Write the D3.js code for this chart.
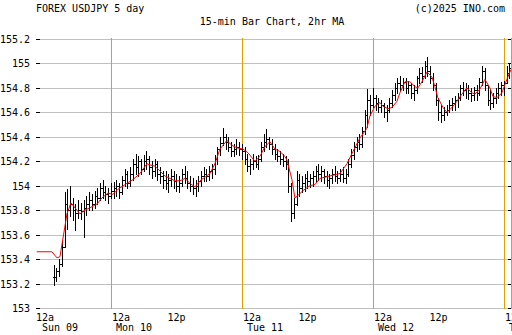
<!DOCTYPE html>
<html>
<head>
<meta charset="utf-8">
<script src="https://cdn.jsdelivr.net/npm/d3@7"></script>
<style>
  body { margin: 0; background: #fff; }
  .chart { width: 512px; height: 335px; }
  text { font-family: "DejaVu Sans Mono", monospace; font-size: 10px; fill: #000; }
</style>
</head>
<body>
<div class="chart"></div>
<script>
//30-min bars, hours counted from Mon 10 12a
const barStart = -10.5;
const barStep = 0.5;

const highs = [
  153.35,153.33,153.40,153.55,153.95,153.97,154.00,153.90,153.85,153.88,153.86,153.88,153.92,153.95,153.93,153.96,153.98,154.02,154.05,154.00,153.98,154.02,
  154.03,154.05,154.02,154.08,154.14,154.12,154.15,154.22,154.26,154.24,154.22,154.25,154.28,154.24,154.20,154.22,154.20,154.15,154.12,154.12,154.10,154.14,154.12,154.10,154.08,154.14,154.16,154.12,154.08,154.06,154.05,154.08,154.12,154.15,154.14,154.16,154.18,154.25,154.32,154.40,154.47,154.42,154.40,154.36,154.34,154.38,154.36,154.34,
  154.32,154.26,154.22,154.26,154.24,154.25,154.36,154.42,154.46,154.40,154.38,154.34,154.30,154.28,154.26,154.24,154.22,154.02,153.90,154.12,154.10,154.08,154.10,154.12,154.10,154.12,154.16,154.18,154.16,154.14,154.12,154.10,154.14,154.16,154.12,154.14,154.15,154.14,154.22,154.30,154.36,154.40,154.42,154.48,154.62,154.79,154.74,154.80,
  154.74,154.72,154.70,154.68,154.66,154.72,154.78,154.84,154.88,154.90,154.88,154.88,154.86,154.84,154.82,154.90,154.96,154.97,155.02,155.05,154.98,154.92,154.84,154.72,154.66,154.64,154.66,154.70,154.72,154.73,154.76,154.82,154.85,154.84,154.82,154.80,154.81,154.82,154.88,154.98,154.96,154.82,154.78,154.76,154.80,154.84,154.85,154.86,154.98,155.00
];

const lows = [
  153.19,153.22,153.26,153.34,153.50,153.65,153.75,153.72,153.64,153.74,153.73,153.58,153.76,153.80,153.80,153.82,153.85,153.88,153.90,153.88,153.86,153.90,
  153.90,153.92,153.90,153.93,154.00,153.98,154.00,154.05,154.10,154.08,154.10,154.12,154.14,154.10,154.06,154.08,154.05,154.02,153.98,153.97,153.95,154.00,153.98,153.96,153.95,154.00,154.02,153.98,153.96,153.93,153.92,153.96,154.00,154.04,154.04,154.05,154.06,154.10,154.18,154.25,154.33,154.30,154.28,154.24,154.24,154.26,154.25,154.22,
  154.18,154.12,154.10,154.14,154.15,154.14,154.20,154.28,154.32,154.30,154.26,154.22,154.20,154.18,154.16,154.14,153.95,153.71,153.74,153.84,153.92,153.95,153.96,153.98,153.99,154.00,154.03,154.05,154.04,154.02,154.00,153.98,154.02,154.04,154.02,154.04,154.03,154.02,154.08,154.15,154.22,154.28,154.30,154.32,154.42,154.48,154.58,154.64,
  154.62,154.60,154.60,154.56,154.53,154.60,154.64,154.70,154.76,154.78,154.78,154.76,154.76,154.72,154.70,154.76,154.84,154.85,154.88,154.90,154.84,154.78,154.66,154.54,154.52,154.54,154.58,154.60,154.62,154.62,154.64,154.70,154.74,154.72,154.71,154.69,154.70,154.70,154.74,154.82,154.78,154.66,154.63,154.64,154.68,154.72,154.74,154.74,154.84,154.88
];

const closes = [
  153.25,153.30,153.36,153.50,153.85,153.80,153.85,153.80,153.78,153.80,153.79,153.82,153.85,153.88,153.85,153.92,153.90,153.98,153.95,153.93,153.92,153.96,
  153.98,154.00,153.95,154.05,154.10,154.02,154.10,154.18,154.15,154.20,154.14,154.20,154.22,154.15,154.12,154.18,154.10,154.08,154.05,154.02,154.05,154.08,154.04,154.00,154.02,154.10,154.06,154.02,154.00,153.98,154.00,154.04,154.08,154.10,154.08,154.12,154.14,154.22,154.30,154.35,154.40,154.36,154.32,154.28,154.30,154.32,154.30,154.28,
  154.22,154.16,154.18,154.20,154.18,154.22,154.32,154.36,154.38,154.34,154.30,154.26,154.24,154.22,154.20,154.18,154.00,153.78,153.85,154.05,153.98,154.02,154.06,154.04,154.06,154.08,154.12,154.10,154.12,154.08,154.05,154.06,154.10,154.08,154.06,154.10,154.06,154.10,154.18,154.25,154.32,154.36,154.34,154.45,154.58,154.70,154.66,154.72,
  154.68,154.64,154.66,154.60,154.62,154.68,154.74,154.80,154.84,154.82,154.85,154.80,154.82,154.76,154.78,154.88,154.92,154.90,154.98,154.94,154.88,154.82,154.70,154.60,154.58,154.60,154.62,154.66,154.68,154.70,154.72,154.80,154.78,154.80,154.76,154.74,154.78,154.76,154.85,154.94,154.82,154.70,154.68,154.72,154.76,154.80,154.82,154.84,154.92,154.96
];

//2hr moving average (hour, price)
const maHours = [-13.6,-10.81,-9.89,-9.34,-8.06,-7.33,-6.23,-5.68,-4.76,-3.85,-2.57,-1.65,-0.55,0.37,1.28,2.93,4.03,5.31,6.60,7.15,8.06,8.98,9.89,10.81,11.73,12.64,13.56,14.47,15.39,16.31,18.14,19.05,19.97,21.25,22.17,23.09,24.18,25.10,26.38,27.30,28.22,29.13,30.05,30.96,31.88,32.25,33.16,33.71,34.26,35.18,36.46,37.38,38.29,40.13,41.96,43.24,44.34,45.62,46.90,47.45,48.37,49.29,49.84,50.75,51.48,52.40,52.95,53.87,54.78,55.70,56.25,56.98,57.90,58.81,59.36,59.91,60.83,61.56,62.48,63.39,64.31,65.23,66.14,66.69,67.61,68.52,69.44,69.99,70.72,71.64,72.55,73.29];
const maValues = [153.46,153.46,153.41,153.42,153.77,153.86,153.80,153.77,153.80,153.82,153.85,153.90,153.94,153.93,153.97,154.02,154.05,154.10,154.18,154.17,154.16,154.12,154.08,154.06,154.04,154.04,154.06,154.02,153.99,154.04,154.10,154.18,154.30,154.37,154.33,154.31,154.30,154.27,154.20,154.24,154.32,154.36,154.30,154.28,154.24,154.21,154.05,153.90,153.92,153.96,154.00,154.01,154.06,154.08,154.10,154.18,154.28,154.39,154.47,154.57,154.65,154.68,154.65,154.63,154.64,154.69,154.76,154.85,154.85,154.81,154.80,154.85,154.93,154.89,154.81,154.72,154.64,154.60,154.64,154.69,154.75,154.80,154.76,154.75,154.79,154.87,154.80,154.73,154.72,154.76,154.87,154.95];

const yTicks = [153, 153.2, 153.4, 153.6, 153.8, 154, 154.2, 154.4, 154.6, 154.8, 155, 155.2];
const xTickHours = [0, 12, 24, 36, 48, 60, 72];
const xTickLabels = ["12a", "12p", "12a", "12p", "12a", "12p", "12a"];
const dayHours = [0, 24, 48, 72];
const dayLabels = ["Mon 10", "Tue 11", "Wed 12", "Thu 13"];

let chart = {};
const base = new Date(2025, 10, 10, 0, 0).getTime();
const hrs = h => new Date(base + h * 3600000);

init();

function init() {
    chart.bars = highs.map((h, i) => ({
        t: hrs(barStart + i * barStep),
        h: h,
        l: lows[i],
        c: closes[i],
        o: i > 0 ? closes[i - 1] : closes[i]
    }));
    chart.ma = maHours.map((h, i) => ({ t: hrs(h), v: maValues[i] }));

    setDimensions();
    setScales();
    appendElements();
}

function setDimensions() {
    chart.left = 40;
    chart.right = 511;
    chart.top = 39;
    chart.bottom = 308;
}

function setScales() {
    chart.x = d3.scaleTime()
        .domain([hrs(-13), hrs(73.3)])
        .range([chart.left, chart.right]);

    chart.y = d3.scaleLinear()
        .domain([153, 155.2])
        .range([chart.bottom, chart.top]);
}

function appendElements() {
    const px = v => Math.round(v) + 0.5;

    chart.svg = d3.select(".chart").append("svg")
        .attr("width", 512)
        .attr("height", 335);

    //titles
    chart.svg.append("text").attr("x", 36).attr("y", 12).text("FOREX USDJPY 5 day");
    chart.svg.append("text").attr("x", 505).attr("y", 12).attr("text-anchor", "end").text("(c)2025 INO.com");
    chart.svg.append("text").attr("x", 272).attr("y", 25).attr("text-anchor", "middle").text("15-min Bar Chart, 2hr MA");

    //horizontal grid + left/right tick marks
    let grid = chart.svg.append("g").attr("shape-rendering", "crispEdges");
    grid.selectAll("line.grid")
        .data(yTicks).enter()
        .append("line")
        .attr("class", "grid")
        .attr("x1", chart.left).attr("x2", chart.right + 1)
        .attr("y1", d => px(chart.y(d))).attr("y2", d => px(chart.y(d)))
        .attr("stroke", "#c0c0c0");

    grid.selectAll("line.ltick")
        .data(yTicks).enter()
        .append("line")
        .attr("x1", 36).attr("x2", 40)
        .attr("y1", d => px(chart.y(d))).attr("y2", d => px(chart.y(d)))
        .attr("stroke", "#000");

    grid.selectAll("line.rtick")
        .data(yTicks).enter()
        .append("line")
        .attr("x1", 508).attr("x2", 512)
        .attr("y1", d => px(chart.y(d))).attr("y2", d => px(chart.y(d)))
        .attr("stroke", "#000");

    chart.svg.selectAll("text.ylab")
        .data(yTicks).enter()
        .append("text")
        .attr("class", "ylab")
        .attr("x", 30)
        .attr("y", d => Math.round(chart.y(d)) + 4)
        .attr("text-anchor", "end")
        .text(d => String(+d.toFixed(1)));

    //day separators, plus the right edge
    let seps = dayHours.map(h => chart.x(hrs(h))).concat([chart.right]);
    grid.selectAll("line.sep")
        .data(seps).enter()
        .append("line")
        .attr("x1", d => px(d)).attr("x2", d => px(d))
        .attr("y1", chart.top - 1).attr("y2", chart.bottom + 1)
        .attr("stroke", "#e0a000");

    //x labels: 12a sits right of the line, 12p is centred
    chart.svg.append("text").attr("x", 36).attr("y", 321).text("12a");
    chart.svg.append("text").attr("x", 42).attr("y", 331).text("Sun 09");

    chart.svg.selectAll("text.xlab")
        .data(xTickHours).enter()
        .append("text")
        .attr("x", (d, i) => xTickLabels[i] === "12p" ? chart.x(hrs(d)) : chart.x(hrs(d)) + 1)
        .attr("y", 321)
        .attr("text-anchor", (d, i) => xTickLabels[i] === "12p" ? "middle" : "start")
        .text((d, i) => xTickLabels[i]);

    chart.svg.selectAll("text.day")
        .data(dayHours).enter()
        .append("text")
        .attr("x", d => chart.x(hrs(d)) + 5)
        .attr("y", 331)
        .text((d, i) => dayLabels[i]);

    //OHLC bars
    let bars = chart.svg.append("g")
        .attr("shape-rendering", "crispEdges")
        .attr("stroke", "#000");

    let bar = bars.selectAll("g.bar")
        .data(chart.bars).enter()
        .append("g");

    bar.append("line")
        .attr("x1", d => px(chart.x(d.t))).attr("x2", d => px(chart.x(d.t)))
        .attr("y1", d => Math.round(chart.y(d.h))).attr("y2", d => Math.round(chart.y(d.l)) + 1);

    bar.append("line")
        .attr("x1", d => Math.round(chart.x(d.t))).attr("x2", d => Math.round(chart.x(d.t)) + 2)
        .attr("y1", d => px(chart.y(d.c))).attr("y2", d => px(chart.y(d.c)));

    bar.append("line")
        .attr("x1", d => Math.round(chart.x(d.t)) - 1).attr("x2", d => Math.round(chart.x(d.t)) + 1)
        .attr("y1", d => px(chart.y(d.o))).attr("y2", d => px(chart.y(d.o)));

    //moving average
    let line = d3.line()
        .x(d => chart.x(d.t))
        .y(d => chart.y(d.v));

    chart.svg.append("path")
        .datum(chart.ma)
        .attr("d", line)
        .attr("fill", "none")
        .attr("stroke", "#ff0000")
        .attr("stroke-width", 1);
}
</script>
</body>
</html>
